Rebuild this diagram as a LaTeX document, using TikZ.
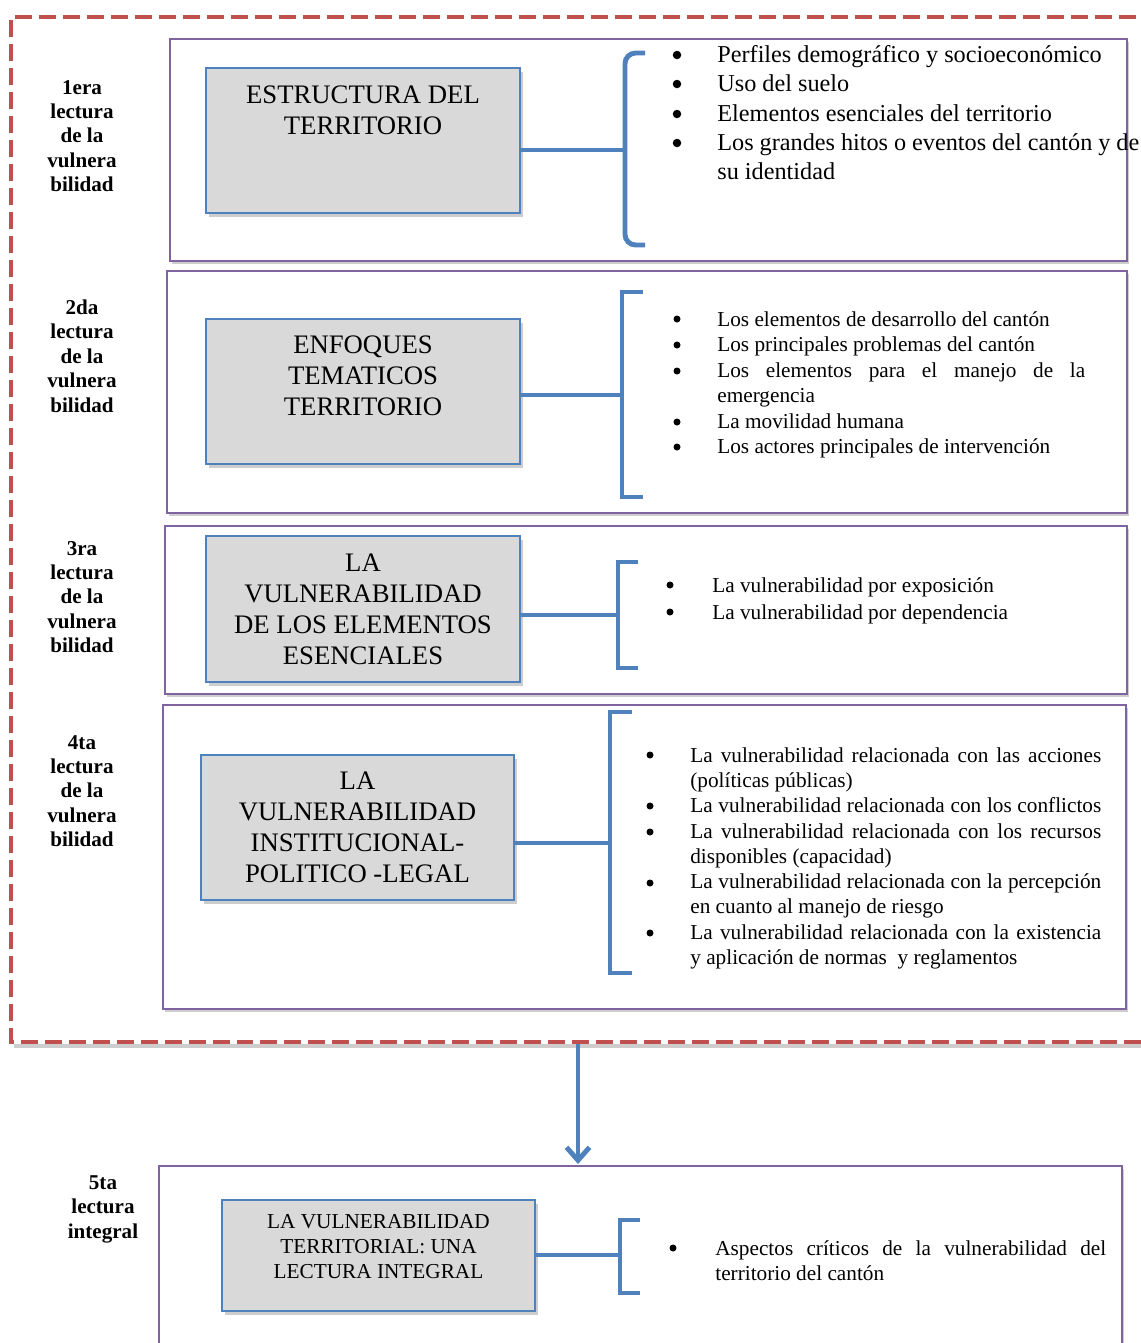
\documentclass[tikz,border=0pt]{standalone}
\usepackage{fontspec}
\setmainfont{Liberation Serif}
\usetikzlibrary{arrows.meta,shadows}
\definecolor{framecolor}{RGB}{128,100,162}
\definecolor{linkcolor}{RGB}{79,129,189}
\definecolor{dashcolor}{RGB}{192,80,77}
\definecolor{boxfill}{RGB}{217,217,217}
\definecolor{shadecolor}{RGB}{205,205,205}

% justified line of a list
\newcommand{\jl}[2]{\hbox to #1{#2}}

\tikzset{
    frame/.style={draw=framecolor, line width=1.1pt, fill=white,
        drop shadow={shadow xshift=1.2pt, shadow yshift=-1.8pt, fill=shadecolor, opacity=1}},
    greybox/.style={draw=linkcolor, line width=1.1pt, fill=boxfill, inner sep=0pt,
        minimum width=6.28cm, minimum height=2.9cm,
        drop shadow={shadow xshift=1.5pt, shadow yshift=-2pt, fill=shadecolor, opacity=1}},
    link/.style={draw=linkcolor, line width=2.8pt},
    lectura/.style={font=\fontsize{12}{13.9}\selectfont\bfseries, align=center},
    boxtext/.style={font=\fontsize{15.2}{17.6}\selectfont, align=center},
    items/.style={anchor=north west, inner sep=0pt, align=left}
}

\begin{document}
\begin{tikzpicture}[x=0.02cm, y=-0.02cm]
    \useasboundingbox (0,0) rectangle (1141,1343);
    \clip (0,0) rectangle (1141,1343);

    % Dashed frame round the four readings
    \draw[shadecolor, line width=2.8pt] (14,1046) -- (1160,1046);
    \draw[dashcolor, line width=2.8pt, dash pattern=on 0.34cm off 0.14cm]
        (1160,17) -- (11,17) -- (11,1042) -- (1160,1042);
    \coordinate (dashout) at (578,1044);

    % Frames
    \draw[frame] (170,39) rectangle (1127,261);
    \draw[frame] (167,271) rectangle (1127,513);
    \draw[frame] (165,526) rectangle (1127,694);
    \draw[frame] (163,705) rectangle (1126,1009);
    \draw[frame] (159,1166) rectangle (1122,1400);
    \coordinate (top5) at (578,1164);

    % Left labels
    \node[lectura] (lab1) at (82,136) {1era\\lectura\\de la\\vulnera\\bilidad};
    \node[lectura] (lab2) at (82,356) {2da\\lectura\\de la\\vulnera\\bilidad};
    \node[lectura] (lab3) at (82,597) {3ra\\lectura\\de la\\vulnera\\bilidad};
    \node[lectura] (lab4) at (82,791) {4ta\\lectura\\de la\\vulnera\\bilidad};
    \node[lectura] (lab5) at (103,1209) {5ta\\lectura\\integral};

    % 1era lectura
    \node[greybox] (box1) at (363,140.5) {};
    \node[boxtext] (txt1) at (363,110) {ESTRUCTURA DEL\\TERRITORIO};
    \coordinate (br1) at (625,150);
    \coordinate (br1t) at (645,53);
    \coordinate (br1b) at (645,245);
    \draw[link] (box1.east |- br1) -- (br1);
    \draw[link, rounded corners=6pt] (br1t) -| (br1) |- (br1b);
    \node[items, font=\fontsize{13.8}{16.7}\selectfont] (list1) at (717,45) {%
        Perfiles demográfico y socioeconómico\\
        Uso del suelo\\
        Elementos esenciales del territorio\\
        \jl{8.44cm}{Los grandes hitos o eventos del cantón y de}\\
        su identidad};
    \foreach \y in {55,84,114,143}
        \fill (677,\y) circle (0.085cm);

    % 2da lectura
    \node[greybox] (box2) at (363,391.5) {};
    \node[boxtext] (txt2) at (363,376) {ENFOQUES\\TEMATICOS\\TERRITORIO};
    \coordinate (br2) at (622,395);
    \coordinate (br2t) at (643,292);
    \coordinate (br2b) at (643,497);
    \draw[link] (box2.east |- br2) -- (br2);
    \draw[link] (br2t) -| (br2) |- (br2b);
    \node[items, font=\fontsize{12.1}{14.5}\selectfont] (list2) at (717,311) {%
        Los elementos de desarrollo del cantón\\
        Los principales problemas del cantón\\
        \jl{7.36cm}{Los elementos para el manejo de la}\\
        emergencia\\
        La movilidad humana\\
        Los actores principales de intervención};
    \foreach \y in {319,345,371,422,447}
        \fill (677,\y) circle (0.07cm);

    % 3ra lectura
    \node[greybox, minimum height=2.92cm] (box3) at (363,609) {};
    \node[boxtext] (txt3) at (363,609) {LA\\VULNERABILIDAD\\DE LOS ELEMENTOS\\ESENCIALES};
    \coordinate (br3) at (618,615);
    \coordinate (br3t) at (638,562);
    \coordinate (br3b) at (638,668);
    \draw[link] (box3.east |- br3) -- (br3);
    \draw[link] (br3t) -| (br3) |- (br3b);
    \node[items, font=\fontsize{12.1}{15.3}\selectfont] (list3) at (712,577) {%
        La vulnerabilidad por exposición\\
        La vulnerabilidad por dependencia};
    \foreach \y in {585,612}
        \fill (670,\y) circle (0.07cm);

    % 4ta lectura
    \node[greybox, minimum width=6.26cm] (box4) at (357.5,827.5) {};
    \node[boxtext] (txt4) at (357.5,827.5) {LA\\VULNERABILIDAD\\INSTITUCIONAL-\\POLITICO -LEGAL};
    \coordinate (br4) at (610,843);
    \coordinate (br4t) at (632,712);
    \coordinate (br4b) at (632,973);
    \draw[link] (box4.east |- br4) -- (br4);
    \draw[link] (br4t) -| (br4) |- (br4b);
    \node[items, font=\fontsize{12.1}{14.4}\selectfont] (list4) at (690,747) {%
        \jl{8.22cm}{La vulnerabilidad relacionada con las acciones}\\
        (políticas públicas)\\
        \jl{8.22cm}{La vulnerabilidad relacionada con los conflictos}\\
        \jl{8.22cm}{La vulnerabilidad relacionada con los recursos}\\
        disponibles (capacidad)\\
        \jl{8.22cm}{La vulnerabilidad relacionada con la percepción}\\
        en cuanto al manejo de riesgo\\
        \jl{8.22cm}{La vulnerabilidad relacionada con la existencia}\\
        y aplicación de normas \ y reglamentos};
    \foreach \y in {755,806,832,883,933}
        \fill (650,\y) circle (0.07cm);

    % arrow to the integral reading
    \draw[link, -{Straight Barb[length=2.6mm, width=4.6mm]}] (dashout) -- (top5);

    % 5ta lectura
    \node[greybox, minimum width=6.26cm, minimum height=2.22cm] (box5) at (378.5,1255.5) {};
    \node[boxtext, font=\fontsize{12.1}{14.2}\selectfont] (txt5) at (378.5,1247)
        {LA VULNERABILIDAD\\TERRITORIAL: UNA\\LECTURA INTEGRAL};
    \coordinate (br5) at (620,1255);
    \coordinate (br5t) at (640,1220);
    \coordinate (br5b) at (640,1293);
    \draw[link] (box5.east |- br5) -- (br5);
    \draw[link] (br5t) -| (br5) |- (br5b);
    \node[items, font=\fontsize{12.1}{14.2}\selectfont] (list5) at (715,1240) {%
        \jl{7.82cm}{Aspectos críticos de la vulnerabilidad del}\\
        territorio del cantón};
    \fill (673,1248) circle (0.07cm);
\end{tikzpicture}
\end{document}
